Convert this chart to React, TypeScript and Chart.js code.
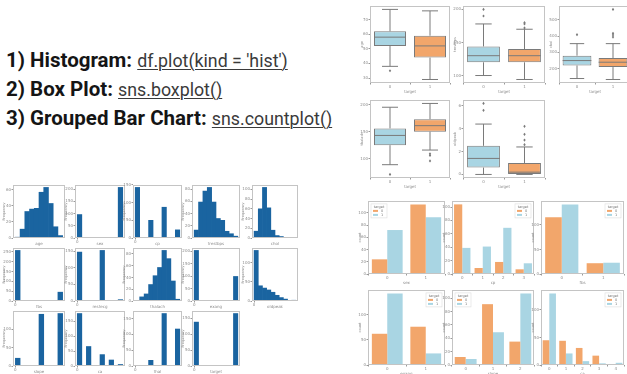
import React, { useEffect, useRef } from 'react';
import { Chart, registerables } from 'chart.js';

Chart.register(...registerables);
Chart.defaults.font.family = "'DejaVu Sans', sans-serif";

// ---------------- data ----------------
// histograms (10 bins each, pandas default)
const histNames = ['age', 'sex', 'cp', 'trestbps', 'chol', 'fbs', 'restecg', 'thalach', 'exang', 'oldpeak', 'slope', 'ca', 'thal', 'target'];
const ageRange = [29, 77];
const ageHist = [1, 11, 33, 36, 37, 57, 63, 43, 14, 3];
const sexRange = [0, 1];
const sexHist = [96, 0, 0, 0, 0, 0, 0, 0, 0, 207];
const cpRange = [0, 3];
const cpHist = [143, 0, 0, 50, 0, 0, 87, 0, 0, 23];
const trestbpsRange = [94, 200];
const trestbpsHist = [13, 59, 77, 83, 59, 32, 29, 11, 7, 3];
const cholRange = [126, 564];
const cholHist = [14, 60, 104, 62, 16, 5, 3, 0, 0, 1];
const fbsRange = [0, 1];
const fbsHist = [258, 0, 0, 0, 0, 0, 0, 0, 0, 45];
const restecgRange = [0, 2];
const restecgHist = [147, 0, 0, 0, 0, 152, 0, 0, 0, 4];
const thalachRange = [71, 202];
const thalachHist = [1, 7, 12, 28, 43, 57, 86, 72, 34, 3];
const exangRange = [0, 1];
const exangHist = [204, 0, 0, 0, 0, 0, 0, 0, 0, 99];
const oldpeakRange = [0, 6.2];
const oldpeakHist = [133, 40, 34, 29, 23, 15, 9, 5, 1, 2];
const slopeRange = [0, 2];
const slopeHist = [21, 0, 0, 0, 0, 140, 0, 0, 0, 142];
const caRange = [0, 4];
const caHist = [175, 0, 65, 0, 0, 38, 0, 20, 0, 5];
const thalRange = [0, 3];
const thalHist = [2, 0, 0, 18, 0, 0, 166, 0, 0, 117];
const targetRange = [0, 1];
const targetHist = [138, 0, 0, 0, 0, 0, 0, 0, 0, 165];

// box plots: [min whisker, q1, median, q3, max whisker] per target group
const targetLabels = ['0', '1'];
const ageBox0 = [38, 52, 58, 62, 77];
const ageBox1 = [29, 44, 52, 59, 76];
const ageOut0 = [35];
const ageOut1: number[] = [];
const trestbpsBox0 = [100, 120, 130, 144, 178];
const trestbpsBox1 = [94, 120, 130, 140, 170];
const trestbpsOut0 = [190, 200];
const trestbpsOut1 = [172, 178, 180];
const cholBox0 = [140, 220, 250, 280, 354];
const cholBox1 = [134, 210, 240, 266, 354];
const cholOut0 = [409];
const cholOut1 = [394, 407, 417, 564];
const thalachBox0 = [89, 125, 143, 156, 195];
const thalachBox1 = [116, 150, 161, 173, 202];
const thalachOut0 = [71];
const thalachOut1 = [96, 106, 109];
const oldpeakBox0 = [0, 0.6, 1.4, 2.5, 4.4];
const oldpeakBox1 = [0, 0, 0.2, 1.0, 2.4];
const oldpeakOut0 = [5.6, 6.2];
const oldpeakOut1 = [2.6, 3.0, 3.5, 4.2];

// count plots (hue = target)
const sexCats = ['0', '1'];
const sexCount0 = [24, 114];
const sexCount1 = [72, 93];
const cpCats = ['0', '1', '2', '3'];
const cpCount0 = [104, 9, 18, 7];
const cpCount1 = [39, 41, 69, 16];
const fbsCats = ['0', '1'];
const fbsCount0 = [116, 22];
const fbsCount1 = [142, 23];
const exangCats = ['0', '1'];
const exangCount0 = [62, 76];
const exangCount1 = [142, 23];
const slopeCats = ['0', '1', '2'];
const slopeCount0 = [12, 91, 35];
const slopeCount1 = [9, 49, 107];
const caCats = ['0', '1', '2', '3', '4'];
const caCount0 = [45, 44, 31, 17, 1];
const caCount1 = [130, 21, 7, 3, 4];

// ---------------- styles ----------------
const HIST_BLUE = '#1a64a0';
const LIGHT_BLUE = '#a9d5e3';
const ORANGE = '#f2a66b';
const FRAME = '#c4c4c4';
const TICK = '#8c8c8c';
const EDGE = '#7a7a7a';
const FS = 4;

const framePlugin = {
  id: 'frameBox',
  afterDraw(chart: any) {
    const { ctx, chartArea: a } = chart;
    ctx.save();
    ctx.strokeStyle = FRAME;
    ctx.lineWidth = 1;
    ctx.strokeRect(Math.round(a.left) + 0.5, Math.round(a.top) + 0.5, Math.round(a.right - a.left) - 1, Math.round(a.bottom - a.top) - 1);
    ctx.restore();
  },
};

const boxPlugin = {
  id: 'boxExtras',
  afterDatasetsDraw(chart: any, _args: any, opts: any) {
    if (!opts || !opts.stats) return;
    const { ctx } = chart;
    const y = chart.scales.y;
    const meta = chart.getDatasetMeta(0);
    ctx.save();
    ctx.strokeStyle = EDGE;
    ctx.fillStyle = EDGE;
    ctx.lineWidth = 1;
    opts.stats.forEach((s: number[], i: number) => {
      const bar: any = meta.data[i];
      const cx = bar.x;
      const half = bar.width / 2;
      const py = (v: number) => y.getPixelForValue(v);
      ctx.beginPath();
      ctx.moveTo(cx, py(s[3]));
      ctx.lineTo(cx, py(s[4]));
      ctx.moveTo(cx, py(s[1]));
      ctx.lineTo(cx, py(s[0]));
      ctx.moveTo(cx - half / 2, py(s[4]));
      ctx.lineTo(cx + half / 2, py(s[4]));
      ctx.moveTo(cx - half / 2, py(s[0]));
      ctx.lineTo(cx + half / 2, py(s[0]));
      ctx.moveTo(cx - half, py(s[2]));
      ctx.lineTo(cx + half, py(s[2]));
      ctx.stroke();
      (opts.outliers[i] || []).forEach((v: number) => {
        const oy = py(v);
        ctx.beginPath();
        ctx.moveTo(cx, oy - 1.6);
        ctx.lineTo(cx + 1.2, oy);
        ctx.lineTo(cx, oy + 1.6);
        ctx.lineTo(cx - 1.2, oy);
        ctx.closePath();
        ctx.fill();
      });
    });
    ctx.restore();
  },
};

const innerLegendPlugin = {
  id: 'innerLegend',
  afterDraw(chart: any, _args: any, opts: any) {
    if (!opts || !opts.title) return;
    const { ctx, chartArea: a } = chart;
    const w = 16;
    const h = 14;
    const x0 = opts.pos === 'left' ? a.left + 3 : a.right - 3 - w;
    const y0 = a.top + 3;
    ctx.save();
    ctx.fillStyle = 'rgba(255,255,255,0.85)';
    ctx.strokeStyle = '#dddddd';
    ctx.lineWidth = 0.6;
    ctx.fillRect(x0, y0, w, h);
    ctx.strokeRect(x0, y0, w, h);
    ctx.fillStyle = '#777';
    ctx.font = "3.5px 'DejaVu Sans'";
    ctx.textBaseline = 'middle';
    ctx.textAlign = 'center';
    ctx.fillText(opts.title, x0 + w / 2, y0 + 3);
    chart.data.datasets.forEach((ds: any, i: number) => {
      const ly = y0 + 7 + i * 4;
      ctx.fillStyle = ds.backgroundColor;
      ctx.fillRect(x0 + 2, ly - 1, 5, 2);
      ctx.fillStyle = '#777';
      ctx.textAlign = 'left';
      ctx.fillText(ds.label, x0 + 10, ly);
    });
    ctx.restore();
  },
};

function axisX(h: number, title: string, extra: any) {
  return {
    ...extra,
    afterFit: (s: any) => { s.height = h; },
    border: { display: false },
    grid: { ...(extra.grid || {}), drawOnChartArea: false, tickLength: 1.5, color: '#999' },
    ticks: { font: { size: FS }, color: TICK, padding: 0.5, maxRotation: 0, ...(extra.ticks || {}) },
    title: { display: true, text: title, font: { size: FS }, color: TICK, padding: 0 },
  };
}

function axisY(w: number, title: string, extra: any) {
  return {
    ...extra,
    afterFit: (s: any) => { s.width = w; },
    border: { display: false },
    grid: { drawOnChartArea: false, tickLength: 1.5, color: '#999' },
    ticks: { font: { size: FS }, color: TICK, padding: 0.5, maxTicksLimit: 7, includeBounds: false, ...(extra.ticks || {}) },
    title: { display: true, text: title, font: { size: 3.5 }, color: TICK, padding: 0 },
  };
}

type Box = { l: number; t: number; w: number; h: number };

function frameBox(fx0: number, fy0: number, fx1: number, fy1: number, yW: number, xH: number): Box {
  return { l: fx0 - yW, t: fy0 - 1, w: fx1 - fx0 + yW + 1, h: fy1 - fy0 + 1 + xH };
}

function baseOptions(xs: any, ys: any, plugins: any) {
  return {
    responsive: false,
    animation: false,
    events: [],
    layout: { padding: { top: 1, right: 1, left: 0, bottom: 0 } },
    plugins: { legend: { display: false }, tooltip: { enabled: false }, ...plugins },
    scales: { x: xs, y: ys },
  };
}

function histConfig(name: string, range: number[], counts: number[]) {
  const [lo, hi] = range;
  const bw = (hi - lo) / counts.length;
  const data = counts.map((c, i) => ({ x: lo + bw * (i + 0.5), y: c }));
  const span = hi - lo;
  return {
    type: 'bar',
    data: { datasets: [{ data, backgroundColor: HIST_BLUE, borderWidth: 0, barPercentage: 1, categoryPercentage: 1 }] },
    options: baseOptions(
      axisX(8, name, { type: 'linear', offset: false, min: lo - span * 0.05, max: hi + span * 0.05, grid: { offset: false }, ticks: { maxTicksLimit: 6, includeBounds: false } }),
      axisY(11, 'Frequency', { min: 0, max: Math.max(...counts) * 1.05 }),
      {}
    ),
    plugins: [framePlugin],
  };
}

function boxConfig(name: string, b0: number[], b1: number[], o0: number[], o1: number[]) {
  const all = [...b0, ...b1, ...o0, ...o1];
  const mn = Math.min(...all);
  const mx = Math.max(...all);
  const pad = (mx - mn) * 0.05;
  return {
    type: 'bar',
    data: {
      labels: targetLabels,
      datasets: [{
        data: [[b0[1], b0[3]], [b1[1], b1[3]]],
        backgroundColor: [LIGHT_BLUE, ORANGE],
        borderColor: EDGE,
        borderWidth: 1,
        borderSkipped: false,
        barPercentage: 0.8,
        categoryPercentage: 1,
      }],
    },
    options: baseOptions(
      axisX(11, 'target', {}),
      axisY(10, name, { min: mn - pad, max: mx + pad, ticks: { maxTicksLimit: 7 } }),
      { boxExtras: { stats: [b0, b1], outliers: [o0, o1] } }
    ),
    plugins: [framePlugin, boxPlugin],
  };
}

function countConfig(name: string, cats: string[], c0: number[], c1: number[], pos: string) {
  const mx = Math.max(...c0, ...c1);
  return {
    type: 'bar',
    data: {
      labels: cats,
      datasets: [
        { label: '0', data: c0, backgroundColor: ORANGE, borderWidth: 0, barPercentage: 1, categoryPercentage: 0.8 },
        { label: '1', data: c1, backgroundColor: LIGHT_BLUE, borderWidth: 0, barPercentage: 1, categoryPercentage: 0.8 },
      ],
    },
    options: baseOptions(
      axisX(11, name, {}),
      axisY(10, 'count', { min: 0, max: mx * 1.05 }),
      { innerLegend: { title: 'target', pos } }
    ),
    plugins: [framePlugin, innerLegendPlugin],
  };
}

function MiniChart({ box, config }: { box: Box; config: any }) {
  const ref = useRef<HTMLCanvasElement>(null);
  useEffect(() => {
    const chart = new Chart(ref.current as HTMLCanvasElement, config);
    return () => chart.destroy();
  }, []);
  return (
    <canvas
      ref={ref}
      width={box.w}
      height={box.h}
      style={{ position: 'absolute', left: box.l, top: box.t, width: box.w, height: box.h }}
    />
  );
}

const histRanges = [ageRange, sexRange, cpRange, trestbpsRange, cholRange, fbsRange, restecgRange, thalachRange, exangRange, oldpeakRange, slopeRange, caRange, thalRange, targetRange];
const histCounts = [ageHist, sexHist, cpHist, trestbpsHist, cholHist, fbsHist, restecgHist, thalachHist, exangHist, oldpeakHist, slopeHist, caHist, thalHist, targetHist];

const histCols = [[13, 65], [75, 125], [133, 182], [192, 240], [252, 298]];
const histRows = [[183, 238], [246, 301], [309, 366]];

const textLine = { position: 'absolute' as const, left: 6, fontFamily: 'Roboto, sans-serif', fontSize: 20.5, lineHeight: '20px', whiteSpace: 'nowrap' as const, color: '#151515' };
const codeStyle = { fontWeight: 400, fontSize: 17.8, color: '#3a3a3a', textDecoration: 'underline', textDecorationThickness: '1px', textUnderlineOffset: '2px' };

export default function App() {
  useEffect(() => {
    document.body.style.margin = '0';
  }, []);
  return (
    <div style={{ position: 'fixed', left: 0, top: 0, width: 627, height: 374, overflow: 'hidden', background: '#ffffff' }}>
      <div style={{ ...textLine, top: 50 }}>
        <span style={{ fontWeight: 700 }}>1) Histogram:</span> <span style={codeStyle}>df.plot(kind = 'hist')</span>
      </div>
      <div style={{ ...textLine, top: 79 }}>
        <span style={{ fontWeight: 700 }}>2) Box Plot:</span> <span style={codeStyle}>sns.boxplot()</span>
      </div>
      <div style={{ ...textLine, top: 108 }}>
        <span style={{ fontWeight: 700 }}>3) Grouped Bar Chart:</span> <span style={codeStyle}>sns.countplot()</span>
      </div>

      {histNames.map((n, i) => {
        const col = histCols[i % 5];
        const row = histRows[Math.floor(i / 5)];
        return <MiniChart key={n} box={frameBox(col[0], row[0], col[1], row[1], 11, 8)} config={histConfig(n, histRanges[i], histCounts[i])} />;
      })}

      <MiniChart box={frameBox(370, 4, 450, 83, 10, 11)} config={boxConfig('age', ageBox0, ageBox1, ageOut0, ageOut1)} />
      <MiniChart box={frameBox(463, 4, 545, 83, 10, 11)} config={boxConfig('trestbps', trestbpsBox0, trestbpsBox1, trestbpsOut0, trestbpsOut1)} />
      <MiniChart box={frameBox(559, 4, 631, 83, 10, 11)} config={boxConfig('chol', cholBox0, cholBox1, cholOut0, cholOut1)} />
      <MiniChart box={frameBox(370, 98, 450, 178, 10, 11)} config={boxConfig('thalach', thalachBox0, thalachBox1, thalachOut0, thalachOut1)} />
      <MiniChart box={frameBox(463, 98, 545, 178, 10, 11)} config={boxConfig('oldpeak', oldpeakBox0, oldpeakBox1, oldpeakOut0, oldpeakOut1)} />

      <MiniChart box={frameBox(368, 199, 445, 274, 10, 11)} config={countConfig('sex', sexCats, sexCount0, sexCount1, 'left')} />
      <MiniChart box={frameBox(452, 199, 534, 274, 10, 11)} config={countConfig('cp', cpCats, cpCount0, cpCount1, 'right')} />
      <MiniChart box={frameBox(541, 199, 624, 274, 10, 11)} config={countConfig('fbs', fbsCats, fbsCount0, fbsCount1, 'right')} />
      <MiniChart box={frameBox(368, 288, 445, 365, 10, 11)} config={countConfig('exang', exangCats, exangCount0, exangCount1, 'right')} />
      <MiniChart box={frameBox(452, 288, 534, 365, 10, 11)} config={countConfig('slope', slopeCats, slopeCount0, slopeCount1, 'left')} />
      <MiniChart box={frameBox(541, 288, 624, 365, 10, 11)} config={countConfig('ca', caCats, caCount0, caCount1, 'right')} />
    </div>
  );
}
